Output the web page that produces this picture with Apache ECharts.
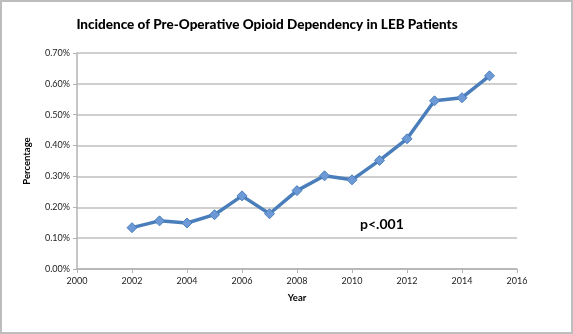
<!DOCTYPE html>
<html>
<head>
<meta charset="utf-8">
<script src="https://cdn.jsdelivr.net/npm/echarts@6/dist/echarts.min.js"></script>
<style>
  html, body { margin: 0; padding: 0; background: #fff; }
  #chart { width: 573px; height: 334px; box-sizing: border-box; border: 2px solid #bdbdbd; }
</style>
</head>
<body>
<div id="chart"></div>
<script>
// Yearly incidence (%) of pre-operative opioid dependency
const years = [2002, 2003, 2004, 2005, 2006, 2007, 2008, 2009, 2010, 2011, 2012, 2013, 2014, 2015];
const incidence = [0.134, 0.156, 0.149, 0.176, 0.237, 0.179, 0.254, 0.302, 0.289, 0.352, 0.422, 0.545, 0.555, 0.626];
const titleText = 'Incidence of Pre-Operative Opioid Dependency in LEB Patients';
const pValueText = 'p<.001';

const font = 'Lato, "Open Sans", sans-serif';
const chart = echarts.init(document.getElementById('chart'), null, { renderer: 'canvas' });

chart.setOption({
  animation: false,
  title: {
    text: titleText,
    left: 260, top: 11, textAlign: 'center',
    textStyle: { fontFamily: font, fontSize: 13.5, fontWeight: 900, color: '#000' }
  },
  grid: { left: 75, right: 54, top: 51, bottom: 63 },
  xAxis: {
    type: 'value', min: 2000, max: 2016, interval: 2,
    name: 'Year', nameLocation: 'middle', nameGap: 24,
    nameTextStyle: { fontFamily: font, fontSize: 9.5, fontWeight: 'bold', color: '#000' },
    axisLine: { show: true, lineStyle: { color: '#b3b3b3', width: 1.5 } },
    axisTick: { show: true, inside: false, length: 4, lineStyle: { color: '#b3b3b3' } },
    axisLabel: { fontFamily: font, fontSize: 9, color: '#222', margin: 8,
      formatter: v => String(v) },
    splitLine: { show: false }
  },
  yAxis: {
    type: 'value', min: 0, max: 0.7, interval: 0.1,
    name: 'Percentage', nameLocation: 'middle', nameGap: 45, nameRotate: 90,
    nameTextStyle: { fontFamily: font, fontSize: 9.5, fontWeight: 'bold', color: '#000' },
    axisLine: { show: true, lineStyle: { color: '#b3b3b3', width: 1.5 } },
    axisTick: { show: true, inside: false, length: 4, lineStyle: { color: '#b3b3b3' } },
    axisLabel: { fontFamily: font, fontSize: 9, color: '#222', margin: 7,
      formatter: v => v.toFixed(2) + '%' },
    splitLine: { show: true, lineStyle: { color: '#bfbfbf', width: 1.5 } }
  },
  series: [{
    type: 'line',
    data: years.map((y, i) => [y, incidence[i]]),
    symbol: 'diamond', symbolSize: 10,
    lineStyle: { color: '#4a7ebb', width: 3.5 },
    itemStyle: { color: '#6d9ad6', borderColor: '#4a7ebb', borderWidth: 1 }
  }],
  graphic: [{
    type: 'text', left: 358, top: 215,
    style: { text: pValueText, fontFamily: font, fontSize: 14, fontWeight: 'bold', fill: '#000' }
  }]
});
</script>
</body>
</html>
